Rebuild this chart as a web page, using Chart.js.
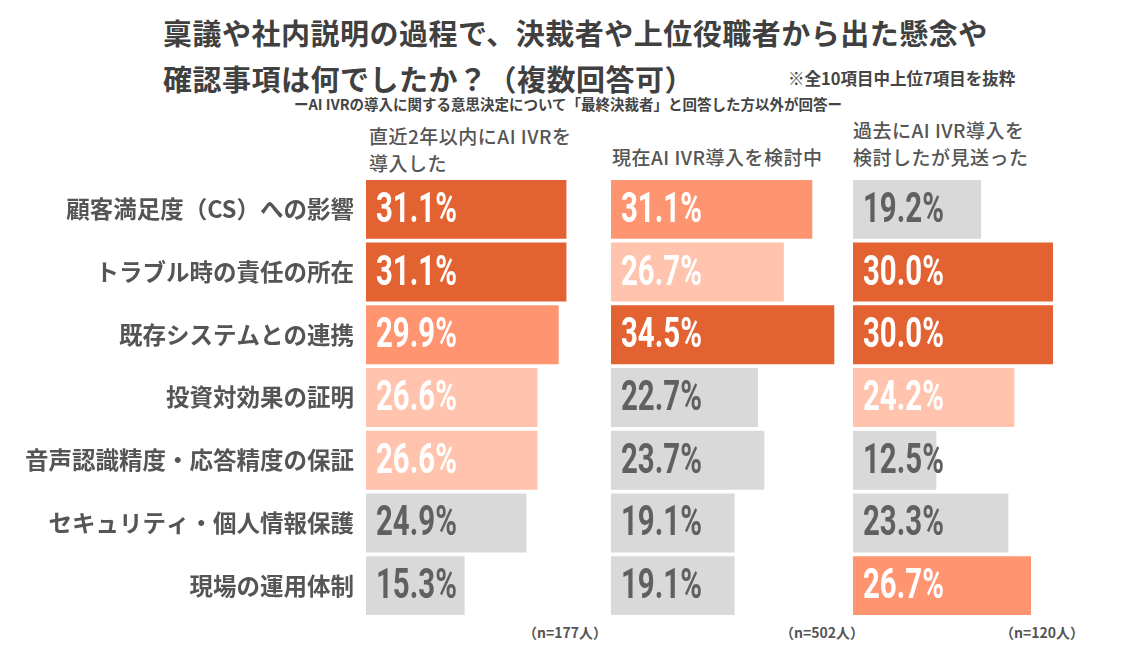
<!DOCTYPE html>
<html lang="ja">
<head>
<meta charset="utf-8">
<script src="https://cdn.jsdelivr.net/npm/chart.js@4/dist/chart.umd.min.js"></script>
<style>
  html, body { margin: 0; padding: 0; background: #fff; }
  body { width: 1144px; height: 649px; position: relative; overflow: hidden;
         font-family: "Noto Sans CJK JP", sans-serif; color: #444; }
  .abs { position: absolute; white-space: nowrap; line-height: 1; }
  .title { font-size: 29px; font-weight: 700; color: #404040; left: 163px; letter-spacing: 0.5px; }
  .note { font-weight: 700; color: #444; }
  .head { font-size: 19px; font-weight: 500; color: #555; letter-spacing: 0.5px; line-height: 27px; }
  .nlab { font-size: 14px; font-weight: 700; color: #555; }
  canvas { position: absolute; top: 178px; }
</style>
</head>
<body>
<div class="abs title" style="top:18px;">稟議や社内説明の過程で、決裁者や上位役職者から出た懸念や</div>
<div class="abs title" style="top:64px;">確認事項は何でしたか？（複数回答可）</div>
<div class="abs note" style="left:788px; top:70px; font-size:16.5px;">※全10項目中上位7項目を抜粋</div>
<div class="abs note" style="left:294px; top:97px; font-size:14.5px;">ーAI IVRの導入に関する意思決定について「最終決裁者」と回答した方以外が回答ー</div>

<div class="abs head" style="left:369px; top:122px;">直近2年以内にAI IVRを<br>導入した</div>
<div class="abs head" style="left:612px; top:143px;">現在AI IVR導入を検討中</div>
<div class="abs head" style="left:853px; top:116px;">過去にAI IVR導入を<br>検討したが見送った</div>

<canvas id="c1" width="598" height="439" style="left:0;"></canvas>
<canvas id="c2" width="233" height="439" style="left:611px;"></canvas>
<canvas id="c3" width="240" height="439" style="left:853px;"></canvas>

<div class="abs nlab" style="left:523px; top:625px;">（n=177人）</div>
<div class="abs nlab" style="left:780px; top:625px;">（n=502人）</div>
<div class="abs nlab" style="left:1000px; top:625px;">（n=120人）</div>

<script>
// categories and values
const categories = [
    '顧客満足度（CS）への影響',
    'トラブル時の責任の所在',
    '既存システムとの連携',
    '投資対効果の証明',
    '音声認識精度・応答精度の保証',
    'セキュリティ・個人情報保護',
    '現場の運用体制'
];
const introduced = [31.1, 31.1, 29.9, 26.6, 26.6, 24.9, 15.3];
const considering = [31.1, 26.7, 34.5, 22.7, 23.7, 19.1, 19.1];
const declined = [19.2, 30.0, 30.0, 24.2, 12.5, 23.3, 26.7];
const xMax = 36;

// rank colours: 1st, 2nd, 3rd distinct value, then gray
const rankColors = ['#E36232', '#FF9470', '#FFC3AE'];
const GRAY = '#D9D9D9';

function colorsFor(values) {
    const distinct = [...new Set(values)].sort((a, b) => b - a);
    return values.map(v => {
        const r = distinct.indexOf(v);
        return r < 3 ? rankColors[r] : GRAY;
    });
}

// draws the percentage inside each bar
const valueLabels = {
    id: 'valueLabels',
    afterDatasetsDraw(chart) {
        const ctx = chart.ctx;
        const ds = chart.data.datasets[0];
        chart.getDatasetMeta(0).data.forEach((bar, i) => {
            const isGray = ds.backgroundColor[i] === GRAY;
            ctx.save();
            ctx.translate(bar.base + 10, bar.y + 2);
            ctx.scale(0.7, 1);
            ctx.font = 'bold 42px Roboto, sans-serif';
            ctx.fillStyle = isGray ? '#606060' : '#ffffff';
            ctx.textBaseline = 'middle';
            ctx.fillText(ds.data[i].toFixed(1) + '%', 0, 0);
            ctx.restore();
        });
    }
};

function makeChart(id, values, showLabels) {
    return new Chart(document.getElementById(id), {
        type: 'bar',
        data: {
            labels: categories,
            datasets: [{
                data: values,
                backgroundColor: colorsFor(values),
                borderWidth: 0,
                categoryPercentage: 0.94,
                barPercentage: 1
            }]
        },
        options: {
            indexAxis: 'y',
            responsive: false,
            animation: false,
            layout: { padding: 0 },
            plugins: {
                legend: { display: false },
                tooltip: { enabled: false }
            },
            scales: {
                x: { display: false, min: 0, max: xMax },
                y: {
                    display: showLabels,
                    grid: { display: false, drawTicks: false },
                    border: { display: false },
                    ticks: {
                        padding: 12,
                        color: '#555',
                        font: { family: '"Noto Sans CJK JP", sans-serif', size: 23.5, weight: 'bold' }
                    },
                    afterFit: scale => {
                        if (!showLabels) return;
                        scale.width = 366;
                        scale.paddingTop = 0;
                        scale.paddingBottom = 0;
                    }
                }
            }
        },
        plugins: [valueLabels]
    });
}

makeChart('c1', introduced, true);
makeChart('c2', considering, false);
makeChart('c3', declined, false);
</script>
</body>
</html>
